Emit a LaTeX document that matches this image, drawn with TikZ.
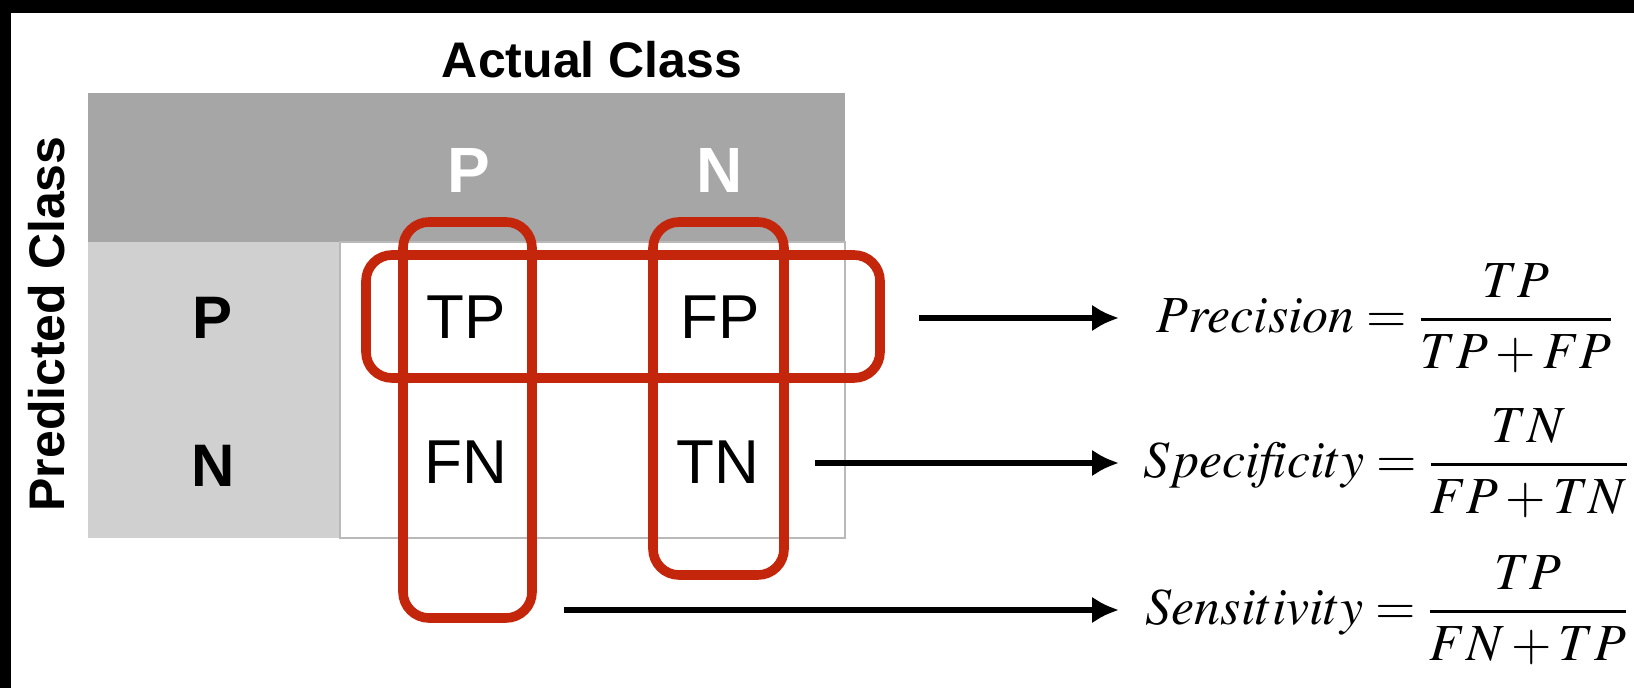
\documentclass[tikz,border=0pt]{standalone}
\usepackage{mathptmx}
\usepackage[no-math]{fontspec}
\setmainfont{Liberation Sans}
\usetikzlibrary{arrows.meta}
\definecolor{boxred}{RGB}{196,38,12}
\definecolor{hdrgray}{RGB}{166,166,166}
\definecolor{sidegray}{RGB}{208,208,208}
\definecolor{edgegray}{RGB}{185,185,185}
\tikzset{
  axislabel/.style={font=\fontsize{25}{29}\selectfont\bfseries, inner sep=0pt},
  hdrlabel/.style={font=\fontsize{32}{36}\selectfont\bfseries, text=white, inner sep=0pt},
  rowlabel/.style={font=\fontsize{30}{34}\selectfont\bfseries, inner sep=0pt},
  cell/.style={font=\fontsize{31}{35}\selectfont, inner sep=0pt},
  redbox/.style={draw=boxred, line width=4.8pt, rounded corners=13pt},
  arr/.style={line width=2.8pt, -{Latex[length=13.5pt,width=13.5pt]}},
  formula/.style={anchor=west, inner sep=0pt, font=\fontsize{26}{31}\selectfont}
}
\begin{document}
\begin{tikzpicture}[x=0.5pt,y=-0.5pt]
\useasboundingbox (0,0) rectangle (1634,688);
\fill[white] (0,0) rectangle (1634,688);
\fill[black] (0,0) rectangle (1634,13);
\fill[black] (0,0) rectangle (11,688);
% matrix
\fill[hdrgray] (88,93) rectangle (845,242);
\fill[sidegray] (88,242) rectangle (340,538);
\draw[edgegray, line width=0.6pt, fill=white] (340,242) rectangle (845,538);
% labels
\node[axislabel] (actual) at (592,60) {Actual Class};
\node[axislabel, rotate=90] (predicted) at (47,324) {Predicted Class};
\node[hdrlabel] (hP) at (469,170) {P};
\node[hdrlabel] (hN) at (720,170) {N};
\node[rowlabel] (rP) at (213,318) {P};
\node[rowlabel] (rN) at (213,466) {N};
\node[cell] (TP) at (466,317) {TP};
\node[cell] (FP) at (720,317) {FP};
\node[cell] (FN) at (466,462) {FN};
\node[cell] (TN) at (718,462) {TN};
% red boxes
\draw[redbox] (403,222) rectangle (532,618);
\draw[redbox] (653,222) rectangle (784,575);
\draw[redbox] (366,255) rectangle (880,378);
% formulas
\node[formula] (prec) at (1156,318) {$\displaystyle Precision=\frac{TP}{TP+FP}$};
\node[formula] (spec) at (1143,463) {$\displaystyle Speci\mkern-3mu f\mkern-3mu icity=\frac{TN}{FP+TN}$};
\node[formula] (sens) at (1145,610) {$\displaystyle Sensitivity=\frac{TP}{FN+TP}$};
% arrows
\coordinate (precstart) at (919,318);
\coordinate (precend) at (1119,318);
\coordinate (specstart) at (815,463);
\coordinate (specend) at (1119,463);
\coordinate (sensstart) at (564,610);
\coordinate (sensend) at (1119,610);
\draw[arr] (precstart) -- (precend);
\draw[arr] (specstart) -- (specend);
\draw[arr] (sensstart) -- (sensend);
\end{tikzpicture}
\end{document}
